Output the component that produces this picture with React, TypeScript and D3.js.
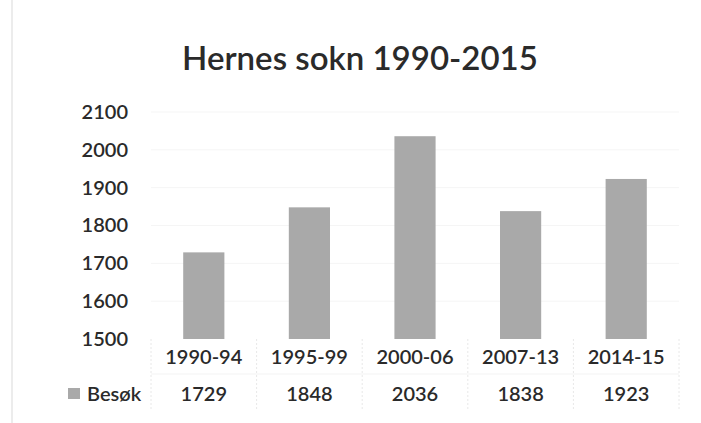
import React, { useEffect, useRef } from 'react';
import * as d3 from 'd3';

const periods = ['1990-94', '1995-99', '2000-06', '2007-13', '2014-15'];
const visits = [1729, 1848, 2036, 1838, 1923];
const yTicks = [1500, 1600, 1700, 1800, 1900, 2000, 2100];
const seriesName = 'Besøk';
const title = 'Hernes sokn 1990-2015';

function App() {
  const ref = useRef<SVGSVGElement | null>(null);

  useEffect(() => {
    if (!ref.current) return;
    const W = 701;
    const H = 423;
    const margin = { top: 112, right: 22, bottom: 84, left: 151 };
    const font = 'Lato, "Open Sans", sans-serif';
    const ink = '#2a2a2a';

    const svg = d3.select(ref.current);
    svg.selectAll('*').remove();
    svg.attr('width', W).attr('height', H);

    svg.append('rect').attr('width', W).attr('height', H).attr('fill', '#fff');

    // faint scan edge on the left
    svg.append('line')
      .attr('x1', 12).attr('x2', 12).attr('y1', 0).attr('y2', H)
      .attr('stroke', '#e6e6e6').attr('stroke-width', 1.5);

    const x = d3.scaleBand<string>()
      .domain(periods)
      .range([margin.left, W - margin.right])
      .paddingInner(0.61)
      .paddingOuter(0.305);

    const y = d3.scaleLinear()
      .domain([1500, 2100])
      .range([H - margin.bottom, margin.top]);

    // title
    svg.append('text')
      .attr('x', 360)
      .attr('y', 70)
      .attr('text-anchor', 'middle')
      .attr('font-family', font)
      .attr('font-size', 33)
      .attr('font-weight', 600)
      .attr('fill', ink)
      .text(title);

    // very faint gridlines
    svg.append('g')
      .selectAll('line')
      .data(yTicks.slice(1))
      .join('line')
      .attr('x1', margin.left)
      .attr('x2', W - margin.right)
      .attr('y1', (d) => y(d))
      .attr('y2', (d) => y(d))
      .attr('stroke', '#f5f5f5')
      .attr('stroke-width', 1);

    // y axis labels
    const yAxis = svg.append('g')
      .attr('transform', `translate(${margin.left - 23},0)`)
      .call(d3.axisLeft(y).tickValues(yTicks).tickSize(0).tickPadding(0).tickFormat(d3.format('d')));
    yAxis.select('.domain').remove();
    yAxis.selectAll('text')
      .attr('font-family', font)
      .attr('font-size', 20)
      .attr('font-weight', 600)
      .attr('fill', ink);

    // bars
    svg.append('g')
      .selectAll('rect')
      .data(visits)
      .join('rect')
      .attr('x', (_d, i) => x(periods[i]) as number)
      .attr('y', (d) => y(d))
      .attr('width', x.bandwidth())
      .attr('height', (d) => y(1500) - y(d))
      .attr('fill', '#a9a9a9');

    // data table
    const step = x.step();
    const rowCat = 357;
    const rowVal = 394;

    const table = svg.append('g');
    table.selectAll('line.v')
      .data(d3.range(periods.length + 1))
      .join('line')
      .attr('class', 'v')
      .attr('x1', (i) => margin.left + i * step)
      .attr('x2', (i) => margin.left + i * step)
      .attr('y1', H - margin.bottom)
      .attr('y2', 410)
      .attr('stroke', '#e8e8e8')
      .attr('stroke-dasharray', '2,2');
    table.append('line')
      .attr('x1', margin.left).attr('x2', W - margin.right)
      .attr('y1', 374).attr('y2', 374)
      .attr('stroke', '#f3f3f3');

    table.selectAll('text.cat')
      .data(periods)
      .join('text')
      .attr('class', 'cat')
      .attr('x', (d) => (x(d) as number) + x.bandwidth() / 2)
      .attr('y', rowCat)
      .attr('dy', '0.35em')
      .attr('text-anchor', 'middle')
      .attr('font-family', font)
      .attr('font-size', 20)
      .attr('font-weight', 600)
      .attr('fill', ink)
      .text((d) => d);

    table.selectAll('text.val')
      .data(visits)
      .join('text')
      .attr('class', 'val')
      .attr('x', (_d, i) => (x(periods[i]) as number) + x.bandwidth() / 2)
      .attr('y', rowVal)
      .attr('dy', '0.35em')
      .attr('text-anchor', 'middle')
      .attr('font-family', font)
      .attr('font-size', 20)
      .attr('font-weight', 600)
      .attr('fill', ink)
      .text((d) => String(d));

    // legend key
    table.append('rect')
      .attr('x', 68).attr('y', rowVal - 6)
      .attr('width', 12).attr('height', 11)
      .attr('fill', '#a9a9a9');
    table.append('text')
      .attr('x', 87)
      .attr('y', rowVal)
      .attr('dy', '0.35em')
      .attr('font-family', font)
      .attr('font-size', 20)
      .attr('font-weight', 600)
      .attr('fill', ink)
      .text(seriesName);
  }, []);

  return <svg ref={ref} style={{ position: 'absolute', left: 0, top: 0, display: 'block' }} />;
}

export default App;
